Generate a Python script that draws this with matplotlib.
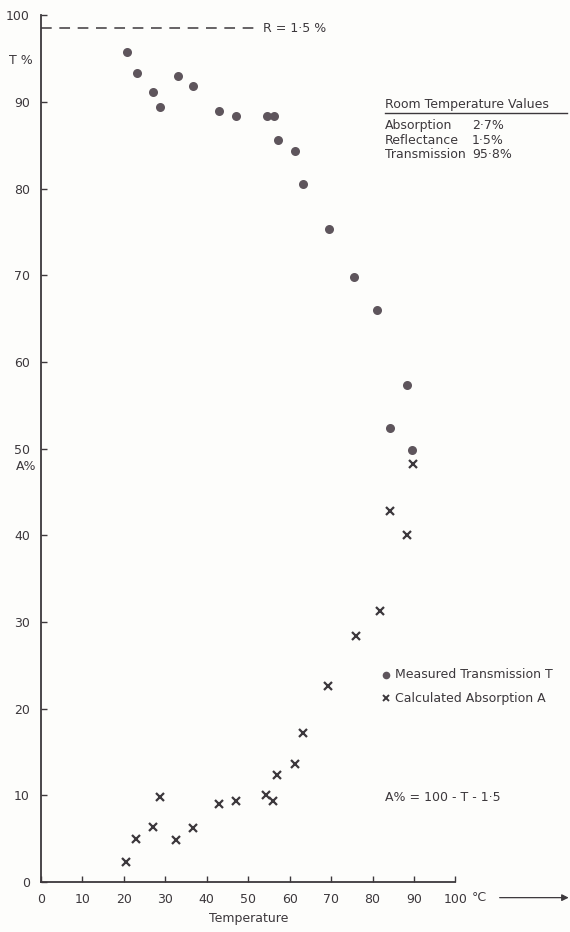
import matplotlib
matplotlib.use("Agg")
import matplotlib.pyplot as plt

# measured transmission T (%) vs temperature (deg C)
temp_T = [20.7, 23.2, 26.9, 28.8, 33.1, 36.6, 43.0, 47.1, 54.6, 56.1, 57.2, 61.3, 63.2,
          69.5, 75.5, 81.1, 84.2, 88.3, 89.4]
trans_T = [95.8, 93.3, 91.2, 89.4, 93.0, 91.8, 88.9, 88.4, 88.4, 88.4, 85.6, 84.3, 80.5,
           75.4, 69.8, 66.0, 52.4, 57.4, 49.8]

# calculated absorption A (%) vs temperature
temp_A = [20.5, 22.8, 27.0, 28.6, 32.6, 36.7, 42.9, 47.0, 54.3, 55.9, 56.9, 61.3, 63.2,
          69.2, 75.9, 81.8, 84.3, 88.4, 89.7]
absorb_A = [2.3, 5.0, 6.3, 9.8, 4.9, 6.2, 9.0, 9.4, 10.0, 9.3, 12.3, 13.6, 17.2,
            22.6, 28.4, 31.3, 42.8, 40.0, 48.2]

R_level = 98.5
xticks = [0, 10, 20, 30, 40, 50, 60, 70, 80, 90, 100]
yticks = [0, 10, 20, 30, 40, 50, 60, 70, 80, 90, 100]

ink = "#3c383c"
dot = "#5e555c"
plt.rcParams['font.family'] = ['DejaVu Sans']

fig = plt.figure(figsize=(5.7, 9.32), dpi=100, facecolor="#fdfdfb")
ax = fig.add_axes([0.072, 0.0536, 0.727, 0.930])
ax.set_facecolor("#fdfdfb")

ax.plot(temp_T, trans_T, 'o', color=dot, markersize=6.5, markeredgewidth=0)
ax.plot(temp_A, absorb_A, 'x', color=ink, markersize=5.8, markeredgewidth=1.6)

# reflectance level
ax.plot([0, 52], [R_level, R_level], '--', color=ink, lw=1.1, dashes=(7, 5))
ax.text(53.5, R_level, "R = 1·5 %", va='center', ha='left', fontsize=9, color=ink)

ax.set_xlim(0, 100)
ax.set_ylim(0, 100)
ax.set_xticks(xticks)
ax.set_yticks(yticks)
ax.tick_params(direction='in', length=4, width=1, colors=ink, labelsize=9, pad=8)
for s in ['top', 'right']:
    ax.spines[s].set_visible(False)
for s in ['left', 'bottom']:
    ax.spines[s].set_color(ink)
    ax.spines[s].set_linewidth(1.3)

ax.set_xlabel("Temperature", fontsize=9, color=ink, labelpad=4)
ax.text(-2.0, 94.8, "T %", ha='right', va='center', fontsize=9, color=ink, clip_on=False)
ax.text(-1.2, 48.0, "A%", ha='right', va='center', fontsize=9, color=ink, clip_on=False)

# room temperature box
fs = 9.0
ax.text(83, 89.7, "Room Temperature Values", va='center', fontsize=fs, color=ink, clip_on=False)
ax.plot([83, 127], [88.7, 88.7], color=ink, lw=1.0, clip_on=False)
rows = [("Absorption", "2·7%", 87.3), ("Reflectance", "1·5%", 85.6), ("Transmission", "95·8%", 83.9)]
for name, val, yy in rows:
    ax.text(83, yy, name, va='center', fontsize=fs, color=ink, clip_on=False)
    ax.text(104.0, yy, val, va='center', fontsize=fs, color=ink, clip_on=False)

# legend
ax.plot([83.2], [23.9], 'o', color=dot, markersize=5.5, markeredgewidth=0, clip_on=False)
ax.text(85.4, 23.9, "Measured Transmission T", va='center', fontsize=fs, color=ink, clip_on=False)
ax.plot([83.2], [21.2], 'x', color=ink, markersize=4.5, markeredgewidth=1.4, clip_on=False)
ax.text(85.4, 21.2, "Calculated Absorption A", va='center', fontsize=fs, color=ink, clip_on=False)

ax.text(83, 9.8, "A% = 100 - T - 1·5", va='center', fontsize=fs, color=ink, clip_on=False)

# unit with arrow
ax.text(104, -1.8, "°C", va='center', fontsize=9, color=ink, clip_on=False)
ax.annotate("", xy=(128, -1.8), xytext=(110, -1.8), xycoords='data',
            arrowprops=dict(arrowstyle='-|>', color=ink, lw=0.9), annotation_clip=False)

fig.savefig("out.png", dpi=100, facecolor=fig.get_facecolor())
